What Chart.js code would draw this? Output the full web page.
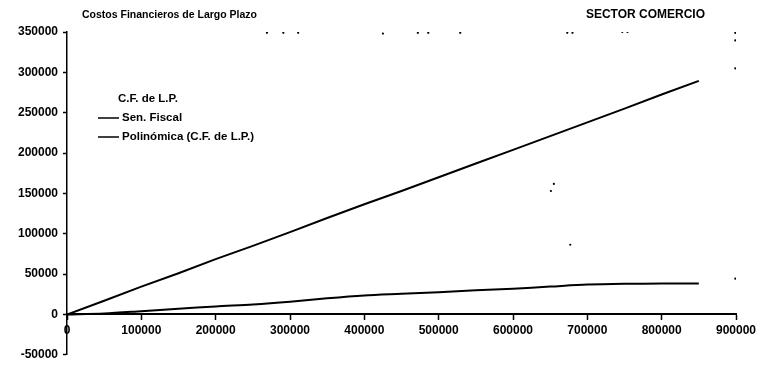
<!DOCTYPE html>
<html>
<head>
<meta charset="utf-8">
<script src="https://cdn.jsdelivr.net/npm/chart.js@4/dist/chart.umd.min.js"></script>
<style>
  html, body { margin: 0; padding: 0; background: #ffffff; }
  #wrap { width: 770px; height: 367px; position: relative; }
</style>
</head>
<body>
<div id="wrap"><canvas id="chart"></canvas></div>
<script>
// Sales (x) and long-term financial costs
const xValues = [0, 50000, 100000, 150000, 200000, 250000, 300000, 350000, 400000,
                 450000, 500000, 550000, 600000, 650000, 700000, 750000, 800000, 850000];
const senFiscal = [0, 17000, 34500, 51000, 68500, 85000, 102000, 119500, 136500,
                   153000, 170000, 187000, 204000, 221000, 238000, 255000, 272500, 289500];
const polinomica = [0, 1200, 4000, 7000, 10000, 12300, 15700, 20000, 23500,
                    25500, 27500, 30000, 32000, 34500, 37000, 38000, 38300, 38500];

// Observed C.F. de L.P. points
const cfX = [269000, 291000, 311000, 425000, 472000, 486000, 529000, 673000, 680000,
             747000, 754000, 899000, 899000, 899000, 655000, 651000, 677000, 899000];
const cfY = [349000, 349000, 349000, 348000, 349000, 349000, 349000, 349000, 349000,
             350000, 350000, 349000, 339500, 305000, 161700, 153000, 86400, 44400];

const seriesLabels = ['C.F. de L.P.', 'Sen. Fiscal', 'Polinómica (C.F. de L.P.)'];
const chartTitle = 'Costos Financieros de Largo Plazo';
const sectorTitle = 'SECTOR COMERCIO';

const xTicks = [0, 100000, 200000, 300000, 400000, 500000, 600000, 700000, 800000, 900000];
const yTicks = [-50000, 0, 50000, 100000, 150000, 200000, 250000, 300000, 350000];

const toPoints = (xs, ys) => xs.map((x, i) => ({ x: x, y: ys[i] }));

const FONT = '"Liberation Sans", Arial, sans-serif';

// Headings and in-plot legend
const annotations = {
  id: 'annotations',
  afterDraw(chart) {
    const ctx = chart.ctx;
    ctx.save();
    ctx.fillStyle = '#000';
    ctx.textBaseline = 'middle';
    ctx.font = 'bold 10.5px ' + FONT;
    ctx.textAlign = 'left';
    ctx.fillText(chartTitle, 82, 15);
    ctx.font = 'bold 12px ' + FONT;
    ctx.textAlign = 'right';
    ctx.fillText(sectorTitle, 705, 15);

    ctx.font = 'bold 11.5px ' + FONT;
    ctx.textAlign = 'left';
    const rows = [
      { ds: 0, y: 99, textX: 118 },
      { ds: 1, y: 118, textX: 122 },
      { ds: 2, y: 137, textX: 122 }
    ];
    rows.forEach(r => {
      const ds = chart.data.datasets[r.ds];
      if (ds.showLine !== false) {
        ctx.strokeStyle = ds.borderColor;
        ctx.lineWidth = 1.5;
        ctx.beginPath();
        ctx.moveTo(98, r.y);
        ctx.lineTo(119, r.y);
        ctx.stroke();
      }
      ctx.fillText(ds.label, r.textX, r.y);
    });
    ctx.restore();
  }
};

const tickCallback = v => String(v);

new Chart(document.getElementById('chart'), {
  type: 'line',
  data: {
    datasets: [
      {
        label: seriesLabels[0],
        data: toPoints(cfX, cfY),
        showLine: false,
        pointRadius: 1.1,
        pointBackgroundColor: '#000',
        pointBorderWidth: 0,
        borderColor: '#000'
      },
      {
        label: seriesLabels[1],
        data: toPoints(xValues, senFiscal),
        borderColor: '#000',
        borderWidth: 2,
        pointRadius: 0,
        tension: 0
      },
      {
        label: seriesLabels[2],
        data: toPoints(xValues, polinomica),
        borderColor: '#000',
        borderWidth: 2,
        pointRadius: 0,
        tension: 0.3
      }
    ]
  },
  options: {
    responsive: true,
    maintainAspectRatio: false,
    animation: false,
    layout: { padding: { top: 32, right: 34, bottom: 11, left: 0 } },
    plugins: {
      legend: { display: false },
      title: { display: false },
      tooltip: { enabled: false }
    },
    scales: {
      x: {
        type: 'linear',
        position: { y: 0 },
        min: 0,
        max: 900000,
        afterFit(scale) { scale.height = 0; },
        afterBuildTicks(scale) { scale.ticks = xTicks.map(v => ({ value: v })); },
        grid: { drawOnChartArea: false, drawTicks: true, tickLength: 5, color: '#000', tickWidth: 1.5 },
        border: { display: true, color: '#000', width: 2 },
        ticks: {
          padding: 4,
          color: '#000',
          font: { family: FONT, size: 12, weight: 'bold' },
          maxRotation: 0,
          autoSkip: false,
          callback: tickCallback
        }
      },
      y: {
        type: 'linear',
        position: 'left',
        min: -50000,
        max: 350000,
        afterFit(scale) { scale.width = 67; },
        afterBuildTicks(scale) { scale.ticks = yTicks.map(v => ({ value: v })); },
        grid: { drawOnChartArea: false, drawTicks: true, tickLength: 4, color: '#000', tickWidth: 1.5 },
        border: { display: true, color: '#000', width: 1.5 },
        ticks: {
          padding: 5,
          color: '#000',
          font: { family: FONT, size: 12, weight: 'bold' },
          autoSkip: false,
          callback: tickCallback
        }
      }
    }
  },
  plugins: [annotations]
});
</script>
</body>
</html>
